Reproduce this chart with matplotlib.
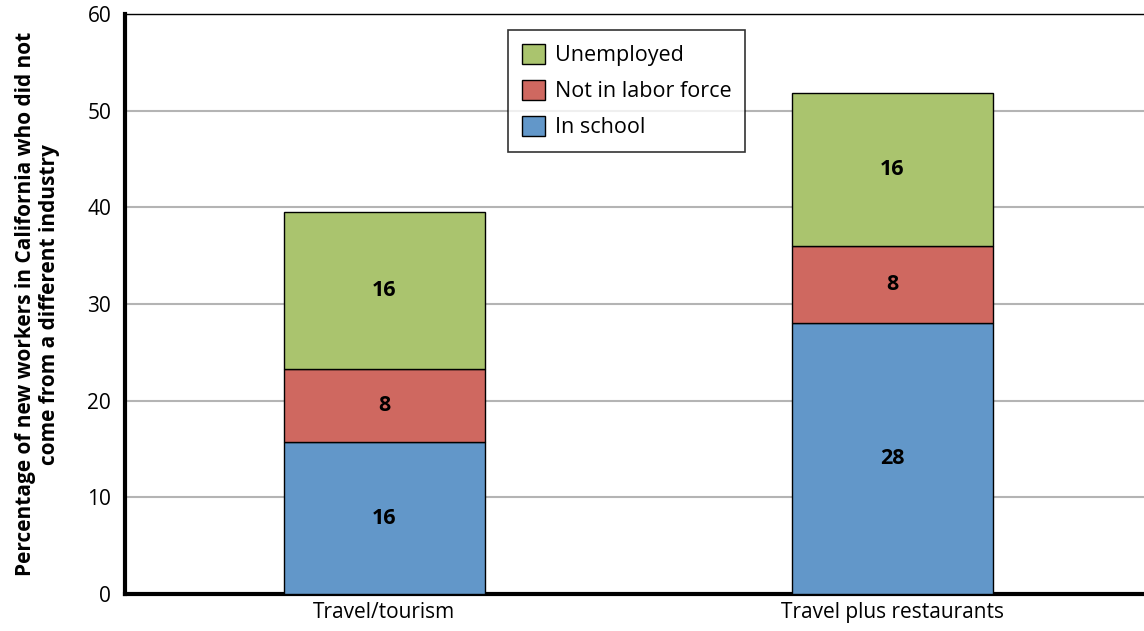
import matplotlib.pyplot as plt
import numpy as np

plt.rcParams['font.family'] = ['Open Sans', 'DejaVu Sans']

# stacked shares of new workers, by industry group
categories = ['Travel/tourism', 'Travel plus restaurants']
in_school = [15.7, 28.0]
not_in_labor_force = [7.6, 8.0]
unemployed = [16.2, 15.8]

series = [
    ('In school', in_school, '#6297C9'),
    ('Not in labor force', not_in_labor_force, '#CF6860'),
    ('Unemployed', unemployed, '#AAC46E'),
]

fig = plt.figure(figsize=(11.44, 6.31), dpi=100)
ax = fig.add_axes([0.1093, 0.0586, 0.8907, 0.919])

x = np.arange(len(categories))
bottom = np.zeros(len(categories))
handles = []
for name, vals, color in series:
    bars = ax.bar(x, vals, width=0.395, bottom=bottom, color=color,
                  edgecolor='black', linewidth=1.0, label=name, zorder=3)
    handles.append(bars)
    for xi, b, v in zip(x, bottom, vals):
        ax.text(xi, b + v / 2, f'{v:.0f}', ha='center', va='center',
                fontsize=15.5, fontweight='bold', zorder=4)
    bottom += np.array(vals)

ax.set_xlim(-0.51, 1.495)
ax.set_ylim(0, 60)
ax.set_yticks(range(0, 61, 10))
ax.set_xticks(x)
ax.set_xticklabels(categories, fontsize=15)
ax.tick_params(axis='y', labelsize=15, length=0, pad=10)
ax.tick_params(axis='x', length=0, pad=6)

ax.grid(axis='y', color='#b4b4b4', linewidth=1.5, zorder=0)
ax.set_axisbelow(True)

ax.spines['right'].set_visible(False)
ax.spines['top'].set_linewidth(1.0)
ax.spines['left'].set_linewidth(3)
ax.spines['bottom'].set_linewidth(3)

ax.set_ylabel('Percentage of new workers in California who did not\ncome from a different industry',
              fontsize=15, fontweight='bold', linespacing=1.15)
ax.yaxis.set_label_coords(-0.064, 0.5)

leg = ax.legend(handles[::-1], [s[0] for s in series][::-1],
                loc='upper left', bbox_to_anchor=(0.376, 0.972),
                fontsize=15.5, frameon=True, fancybox=False, edgecolor='black',
                handlelength=1.1, handleheight=1.1, handletextpad=0.45,
                labelspacing=0.62, borderpad=0.62, borderaxespad=0)
leg.get_frame().set_linewidth(1.2)

fig.savefig('out.png', dpi=100)
